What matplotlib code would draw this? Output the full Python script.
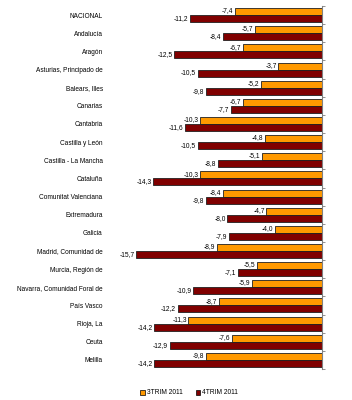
import matplotlib
matplotlib.use("Agg")
import matplotlib.pyplot as plt
import numpy as np
from matplotlib.patches import Patch

categories = ["NACIONAL", "Andalucía", "Aragón", "Asturias, Principado de",
              "Balears, Illes", "Canarias", "Cantabria", "Castilla y León",
              "Castilla - La Mancha", "Cataluña", "Comunitat Valenciana",
              "Extremadura", "Galicia", "Madrid, Comunidad de",
              "Murcia, Región de", "Navarra, Comunidad Foral de",
              "País Vasco", "Rioja, La", "Ceuta", "Melilla"]
trim3 = [-7.4, -5.7, -6.7, -3.7, -5.2, -6.7, -10.3, -4.8, -5.1, -10.3,
         -8.4, -4.7, -4.0, -8.9, -5.5, -5.9, -8.7, -11.3, -7.6, -9.8]
trim4 = [-11.2, -8.4, -12.5, -10.5, -9.8, -7.7, -11.6, -10.5, -8.8, -14.3,
         -9.8, -8.0, -7.9, -15.7, -7.1, -10.9, -12.2, -14.2, -12.9, -14.2]
series_names = ["3TRIM 2011", "4TRIM 2011"]

plt.rcParams['font.family'] = ['Liberation Sans', 'DejaVu Sans']

W, H = 352, 400
fig = plt.figure(figsize=(W / 100, H / 100), dpi=100)
left_px, right_px, top_px, bot_px = 127, 322, 6, 369
ax = fig.add_axes([left_px / W, 1 - bot_px / H, (right_px - left_px) / W,
                   (bot_px - top_px) / H])

c3 = "#FF9900"
c4 = "#800000"
n = len(categories)
y = np.arange(n)
bh = 0.385
ax.barh(y - bh / 2, trim3, height=bh, color=c3, edgecolor="#202020", linewidth=0.6)
ax.barh(y + bh / 2, trim4, height=bh, color=c4, edgecolor="#202020", linewidth=0.6)

fmt = lambda v: f"{v:.1f}".replace(".", ",")
for i in range(n):
    ax.annotate(fmt(trim3[i]), (trim3[i], y[i] - bh / 2), xytext=(-1.2, 0.6),
                textcoords="offset points", ha="right", va="center",
                fontsize=4.8, color="black")
    ax.annotate(fmt(trim4[i]), (trim4[i], y[i] + bh / 2), xytext=(-1.2, 0.0),
                textcoords="offset points", ha="right", va="center",
                fontsize=4.8, color="black")

ax.set_xlim(-16.5, 0)
ax.set_ylim(n - 0.5, -0.5)

for s in ["top", "bottom", "left"]:
    ax.spines[s].set_visible(False)
ax.spines["right"].set_color("#808080")
ax.spines["right"].set_linewidth(0.8)
ax.set_xticks([])

ax.set_yticks(y)
ax.set_yticklabels(categories)
ax.set_yticks(np.arange(n + 1) - 0.5, minor=True)
ax.tick_params(axis="y", which="major", left=False, right=False,
               labelleft=True, labelsize=4.7, pad=14)
for lbl in ax.get_yticklabels():
    lbl.set_horizontalalignment("right")
ax.tick_params(axis="y", which="minor", left=False, right=True,
               length=2, width=0.6, color="#808080", direction="out")

handles = [Patch(facecolor=c3, edgecolor="black", linewidth=0.5),
           Patch(facecolor=c4, edgecolor="black", linewidth=0.5)]
fig.legend(handles, series_names, loc="center", bbox_to_anchor=(189 / W, 1 - 393 / H),
           ncol=2, frameon=False, fontsize=4.8, handlelength=0.7, handleheight=0.7,
           handletextpad=0.3, columnspacing=2.0)

fig.savefig("out.png", dpi=100)
